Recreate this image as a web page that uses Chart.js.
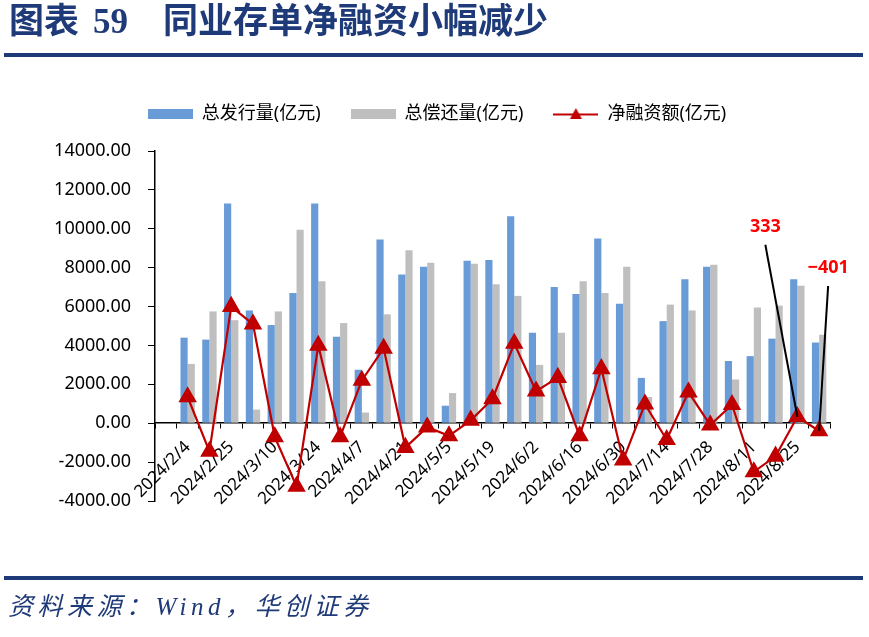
<!DOCTYPE html>
<html>
<head>
<meta charset="utf-8">
<script src="https://cdn.jsdelivr.net/npm/chart.js@4.4.1/dist/chart.umd.min.js"></script>
<style>
  body { margin: 0; background: #fff; width: 869px; height: 637px; overflow: hidden; position: relative; }
  #box { position: absolute; left: 0; top: 0; width: 869px; height: 637px; }
  #title { position: absolute; left: 9px; top: 0px; height: 44px; line-height: 44px; font-weight: bold; font-size: 35px; color: #1f3a78; font-family: "Liberation Serif", "Noto Sans CJK SC", serif; white-space: nowrap; }
  #title span { display: inline-block; }
  .rule { position: absolute; left: 4px; width: 859px; height: 4px; background: #1f3a78; }
  #src { position: absolute; left: 8px; top: 586px; font-style: italic; font-size: 25px; letter-spacing: 4.5px; color: #1f3a78; font-family: "Liberation Serif", "Noto Sans CJK SC", serif; white-space: nowrap; }
</style>
</head>
<body>
<div id="box"><canvas id="cdChart"></canvas></div>
<div id="title"><span style="width:84px">图表</span><span style="width:70px">59</span><span>同业存单净融资小幅减少</span></div>
<div class="rule" style="top:53px"></div>
<div class="rule" style="top:576px"></div>
<div id="src">资料来源：Wind，华创证券</div>
<script>
// weekly data, first slot is an empty category as in the source chart
const categories = ['', '2024/2/4', '2024/2/18', '2024/2/25', '2024/3/3', '2024/3/10', '2024/3/17', '2024/3/24', '2024/3/31',
  '2024/4/7', '2024/4/14', '2024/4/21', '2024/4/28', '2024/5/5', '2024/5/12', '2024/5/19', '2024/5/26', '2024/6/2',
  '2024/6/9', '2024/6/16', '2024/6/23', '2024/6/30', '2024/7/7', '2024/7/14', '2024/7/21', '2024/7/28', '2024/8/4',
  '2024/8/11', '2024/8/18', '2024/8/25', '2024/9/1'];
const issuance = [null, 4400, 4300, 11300, 5800, 5050, 6700, 11300, 4450, 2750, 9450,
  7650, 8050, 900, 8350, 8400, 10650, 4650, 7000, 6650, 9500,
  6150, 2330, 5250, 7400, 8050, 3200, 3450, 4350, 7400, 4150];
const repayment = [null, 3050, 5750, 5300, 700, 5750, 9950, 7300, 5150, 550, 5600,
  8900, 8250, 1550, 8200, 7150, 6550, 3000, 4650, 7300, 6700,
  8050, 1350, 6100, 5800, 8150, 2250, 5950, 6050, 7070, 4550];
const netFinancing = [null, 1350, -1450, 6000, 5100, -700, -3250, 4000, -700, 2200, 3850,
  -1250, -200, -650, 150, 1250, 4100, 1650, 2350, -650, 2800,
  -1900, 980, -850, 1600, -100, 950, -2500, -1700, 333, -401];
const yTicks = [-4000, 14000, 2000]; // min, max, step
const callouts = [29, 30]; // indexes labelled with their value

const BLUE = '#699bd7';
const GRAY = '#bfbfbf';
const RED = '#c00000';
const FONT = '"Noto Sans", "Noto Sans CJK SC", sans-serif';

function legendIcon(kind, color) {
  const c = document.createElement('canvas');
  c.width = 45; c.height = 14;
  const g = c.getContext('2d');
  if (kind === 'bar') {
    g.fillStyle = color;
    g.fillRect(0, 2, 45, 10);
  } else {
    g.strokeStyle = color; g.lineWidth = 2;
    g.beginPath(); g.moveTo(0, 7.5); g.lineTo(45, 7.5); g.stroke();
    g.fillStyle = color;
    g.beginPath(); g.moveTo(22.5, 1); g.lineTo(28.5, 12); g.lineTo(16.5, 12); g.closePath(); g.fill();
  }
  return c;
}
const icons = [legendIcon('bar', BLUE), legendIcon('bar', GRAY), legendIcon('line', RED)];

// push the plot down a bit below the legend, and nudge the legend right
const legendGap = {
  id: 'legendGap',
  beforeInit(chart) {
    const fit = chart.legend.fit;
    chart.legend.fit = function () { fit.call(this); this.height += 18; };
  },
  afterLayout(chart) {
    chart.legend.left += 22;
    chart.legend.right += 22;
  }
};

// value labels with leader lines for the last two weeks
const calloutPlugin = {
  id: 'callouts',
  afterDatasetsDraw(chart) {
    const meta = chart.getDatasetMeta(2);
    const ctx = chart.ctx;
    const offs = { 29: [-32, -190, -172], 30: [9, -163, -145] };
    ctx.save();
    callouts.forEach(i => {
      const p = meta.data[i];
      const o = offs[i];
      ctx.strokeStyle = '#000';
      ctx.lineWidth = 2;
      ctx.beginPath();
      ctx.moveTo(p.x + o[0], p.y + o[2]);
      ctx.lineTo(p.x, p.y);
      ctx.stroke();
      ctx.fillStyle = '#ff0000';
      ctx.font = 'bold 18px ' + FONT;
      ctx.textAlign = 'center';
      ctx.textBaseline = 'middle';
      ctx.fillText(String(netFinancing[i]).replace('-', '−'), p.x + o[0], p.y + o[1]);
    });
    ctx.restore();
  }
};

const data = {
  labels: categories,
  datasets: [
    { type: 'bar', label: '总发行量(亿元)', data: issuance, backgroundColor: BLUE,
      categoryPercentage: 0.66, barPercentage: 1.0, order: 2 },
    { type: 'bar', label: '总偿还量(亿元)', data: repayment, backgroundColor: GRAY,
      categoryPercentage: 0.66, barPercentage: 1.0, order: 3 },
    { type: 'line', label: '净融资额(亿元)', data: netFinancing, borderColor: RED, backgroundColor: RED,
      borderWidth: 2.2, pointStyle: 'triangle', pointRadius: 8.5, pointHoverRadius: 8.5,
      pointBackgroundColor: RED, pointBorderColor: RED, tension: 0, order: 1 }
  ]
};

const config = {
  data: data,
  options: {
    responsive: false,
    animation: false,
    layout: { padding: { top: 75, left: 0, right: 39, bottom: 136 } },
    scales: {
      x: {
        position: { y: 0 },
        grid: { display: true, drawOnChartArea: false, drawTicks: true, tickLength: 5, color: '#000', offset: true },
        border: { display: true, color: '#000', width: 1.5 },
        ticks: {
          autoSkip: false, minRotation: 45, maxRotation: 45, padding: 9,
          color: '#000', font: { family: FONT, size: 17 },
          callback: (v, i) => (i % 2 === 1 ? categories[i] : '')
        }
      },
      y: {
        min: yTicks[0], max: yTicks[1],
        afterFit(scale) { scale.width = 155; },
        grid: { display: true, drawOnChartArea: false, drawTicks: true, tickLength: 7, color: '#000' },
        border: { display: true, color: '#000', width: 1.5 },
        ticks: {
          stepSize: yTicks[2], padding: 17, color: '#000',
          font: { family: FONT, size: 18 },
          callback: v => v.toFixed(2)
        }
      }
    },
    plugins: {
      tooltip: { enabled: false },
      legend: {
        position: 'top',
        labels: {
          usePointStyle: true, pointStyleWidth: 45, padding: 30,
          color: '#000', font: { family: FONT, size: 18 },
          sort: (a, b) => a.datasetIndex - b.datasetIndex,
          generateLabels(chart) {
            const items = Chart.defaults.plugins.legend.labels.generateLabels(chart);
            items.forEach(it => { it.pointStyle = icons[it.datasetIndex]; });
            return items;
          }
        }
      }
    }
  },
  plugins: [legendGap, calloutPlugin]
};

const canvas = document.getElementById('cdChart');
canvas.width = 869;
canvas.height = 637;
const ctx = canvas.getContext('2d');
const cdChart = new Chart(ctx, config);
</script>
</body>
</html>
